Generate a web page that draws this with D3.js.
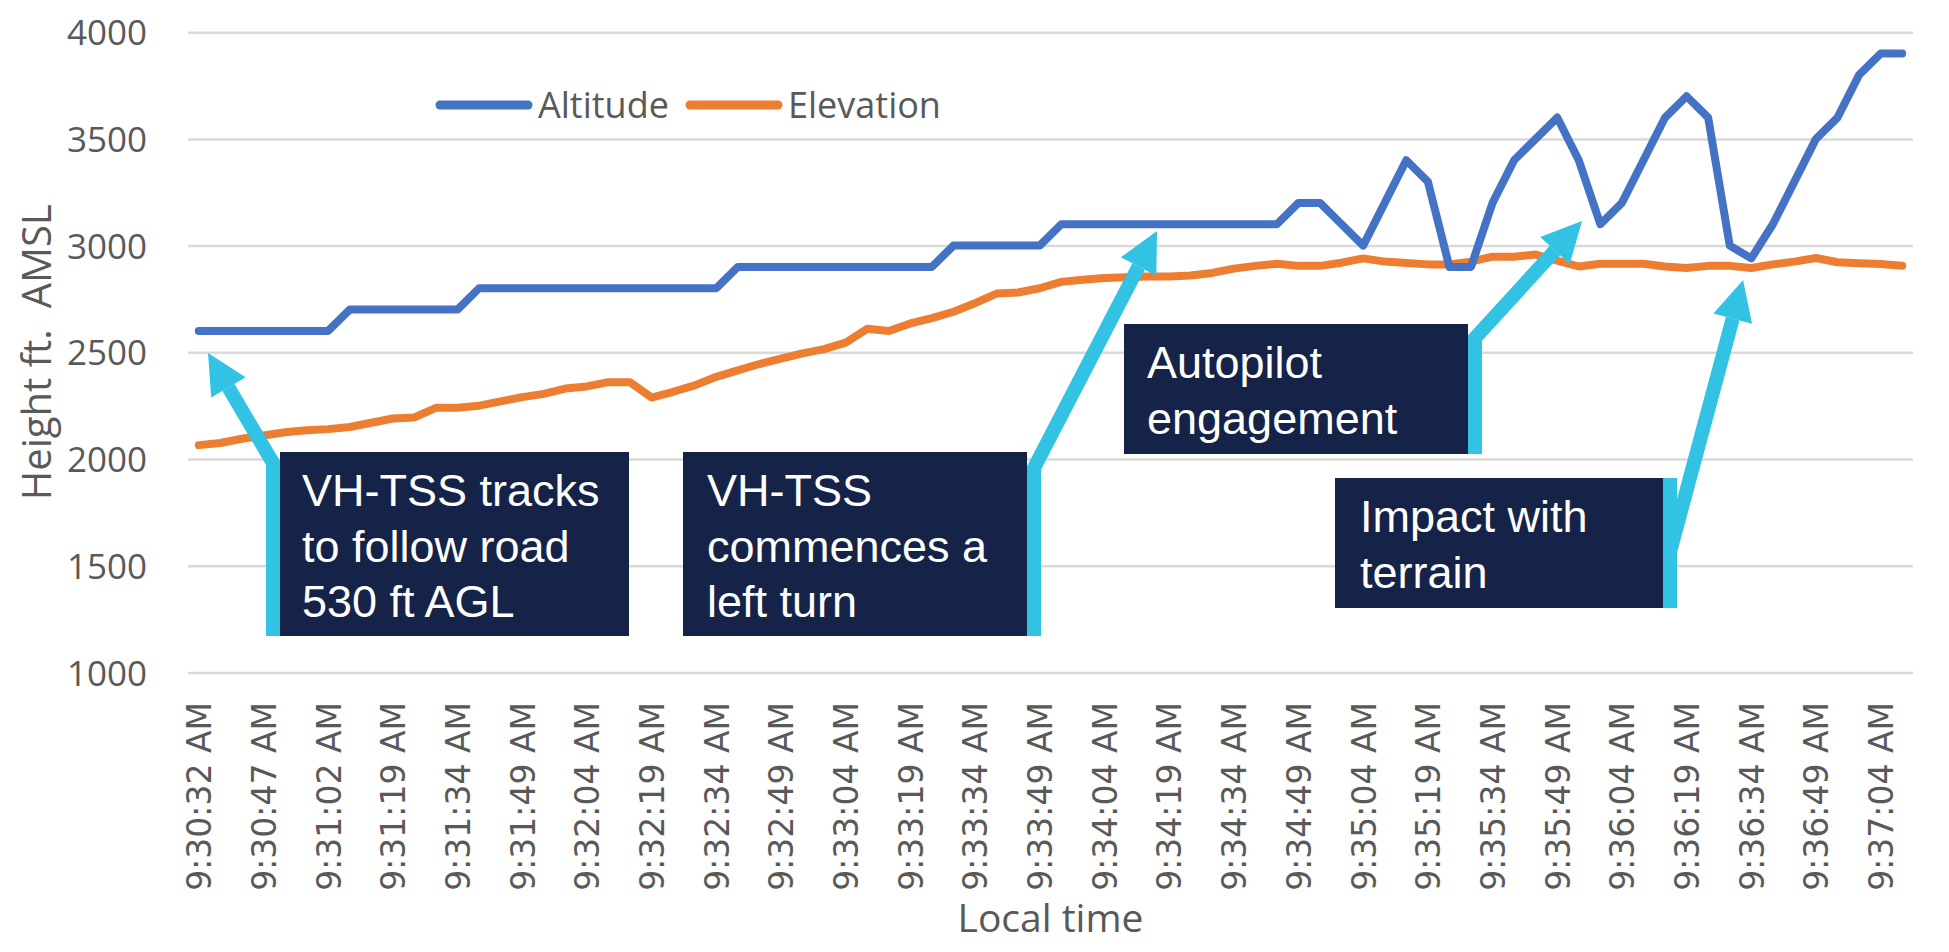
<!DOCTYPE html>
<html>
<head>
<meta charset="utf-8">
<script src="https://cdn.jsdelivr.net/npm/d3@7"></script>
<style>
  html, body { margin: 0; padding: 0; background: #fff; }
  svg { display: block; }
</style>
</head>
<body>
<svg id="chart" width="1949" height="952"></svg>
<script>
var categories = [
  "9:30:32 AM","9:30:37 AM","9:30:42 AM","9:30:47 AM","9:30:52 AM","9:30:57 AM",
  "9:31:02 AM","9:31:07 AM","9:31:13 AM","9:31:19 AM","9:31:24 AM","9:31:29 AM",
  "9:31:34 AM","9:31:39 AM","9:31:44 AM","9:31:49 AM","9:31:54 AM","9:31:59 AM",
  "9:32:04 AM","9:32:09 AM","9:32:14 AM","9:32:19 AM","9:32:24 AM","9:32:29 AM",
  "9:32:34 AM","9:32:39 AM","9:32:44 AM","9:32:49 AM","9:32:54 AM","9:32:59 AM",
  "9:33:04 AM","9:33:09 AM","9:33:14 AM","9:33:19 AM","9:33:24 AM","9:33:29 AM",
  "9:33:34 AM","9:33:39 AM","9:33:44 AM","9:33:49 AM","9:33:54 AM","9:33:59 AM",
  "9:34:04 AM","9:34:09 AM","9:34:14 AM","9:34:19 AM","9:34:24 AM","9:34:29 AM",
  "9:34:34 AM","9:34:39 AM","9:34:44 AM","9:34:49 AM","9:34:54 AM","9:34:59 AM",
  "9:35:04 AM","9:35:09 AM","9:35:14 AM","9:35:19 AM","9:35:24 AM","9:35:29 AM",
  "9:35:34 AM","9:35:39 AM","9:35:44 AM","9:35:49 AM","9:35:54 AM","9:35:59 AM",
  "9:36:04 AM","9:36:09 AM","9:36:14 AM","9:36:19 AM","9:36:24 AM","9:36:29 AM",
  "9:36:34 AM","9:36:39 AM","9:36:44 AM","9:36:49 AM","9:36:54 AM","9:36:59 AM",
  "9:37:04 AM","9:37:09 AM"
];

var altitude = [
  2600,2600,2600,2600,2600,2600,2600,2700,2700,2700,
  2700,2700,2700,2800,2800,2800,2800,2800,2800,2800,
  2800,2800,2800,2800,2800,2900,2900,2900,2900,2900,
  2900,2900,2900,2900,2900,3000,3000,3000,3000,3000,
  3100,3100,3100,3100,3100,3100,3100,3100,3100,3100,
  3100,3200,3200,3100,3000,3200,3400,3300,2900,2900,
  3200,3400,3500,3600,3400,3100,3200,3400,3600,3700,
  3600,3000,2940,3100,3300,3500,3600,3800,3900,3900
];

var elevation = [
  2065,2075,2095,2110,2125,2135,2140,2150,2170,2190,
  2195,2240,2240,2250,2270,2290,2305,2330,2340,2360,
  2360,2288,2315,2345,2385,2415,2445,2470,2495,2515,
  2545,2610,2600,2635,2660,2690,2730,2775,2780,2800,
  2830,2840,2848,2852,2855,2855,2860,2872,2892,2905,
  2915,2905,2905,2920,2940,2925,2918,2912,2912,2925,
  2948,2948,2958,2930,2902,2915,2915,2915,2902,2895,
  2905,2905,2895,2912,2925,2942,2922,2917,2914,2906
];

var yTicks = [1000, 1500, 2000, 2500, 3000, 3500, 4000];
var seriesNames = ["Altitude", "Elevation"];

var noteTexts = [
  ["VH-TSS tracks", "to follow road", "530 ft AGL"],
  ["VH-TSS", "commences a", "left turn"],
  ["Autopilot", "engagement"],
  ["Impact with", "terrain"]
];
// where each arrow points, in (sample index, feet)
var noteTargets = [[0.43, 2497], [44.44, 3068], [64.15, 3115], [71.62, 2839]];

var plotLeft = 188, plotRight = 1913, plotTop = 32.2, plotBottom = 672.4;
var blue = "#4472C4", orange = "#ED7D31", cyan = "#31C2E4", navy = "#162348";
var grey = "#595959";

var svg = d3.select("#chart");

var x = d3.scaleLinear().domain([-0.5, categories.length - 0.5]).range([plotLeft, plotRight]);
var y = d3.scaleLinear().domain([1000, 4000]).range([plotBottom, plotTop]);

// y axis + gridlines
var yAxis = svg.append("g")
  .attr("transform", "translate(" + plotLeft + ",0)")
  .call(d3.axisLeft(y).tickValues(yTicks).tickFormat(d3.format("d"))
    .tickSize(-(plotRight - plotLeft)).tickPadding(41));
yAxis.select(".domain").remove();
yAxis.selectAll("line").attr("stroke", "#D9D9D9").attr("stroke-width", 2.5);
yAxis.selectAll("text")
  .attr("fill", grey)
  .style("font-family", "'Open Sans', sans-serif")
  .style("font-size", "35px")
  .attr("dy", "0.36em");

// x axis labels every third sample
var xAxis = svg.append("g")
  .attr("transform", "translate(0," + plotBottom + ")")
  .call(d3.axisBottom(x)
    .tickValues(d3.range(0, categories.length, 3))
    .tickFormat(function(i){ return categories[i]; })
    .tickSize(0));
xAxis.select(".domain").remove();
xAxis.selectAll("text")
  .attr("fill", grey)
  .attr("transform", "rotate(-90)")
  .attr("text-anchor", "end")
  .attr("x", -29.6)
  .attr("y", 0)
  .attr("dy", "0.36em")
  .style("font-family", "'DejaVu Sans', sans-serif")
  .style("font-size", "33px");

// axis titles
svg.append("text")
  .attr("transform", "translate(51," + ((plotTop + plotBottom) / 2) + ") rotate(-90)")
  .attr("text-anchor", "middle")
  .attr("fill", grey)
  .style("font-family", "'Open Sans', sans-serif")
  .style("font-size", "40px")
  .text("Height ft.\u00a0\u00a0AMSL");

svg.append("text")
  .attr("x", (plotLeft + plotRight) / 2)
  .attr("y", 932)
  .attr("text-anchor", "middle")
  .attr("fill", grey)
  .style("font-family", "'Open Sans', sans-serif")
  .style("font-size", "39px")
  .text("Local time");

// lines
var line = d3.line().x(function(d, i){ return x(i); }).y(function(d){ return y(d); });
[[elevation, orange], [altitude, blue]].forEach(function(s){
  svg.append("path")
    .datum(s[0])
    .attr("d", line)
    .attr("fill", "none")
    .attr("stroke", s[1])
    .attr("stroke-width", 8)
    .attr("stroke-linejoin", "round")
    .attr("stroke-linecap", "round");
});

// legend
var legendX = [440, 690];
seriesNames.forEach(function(name, k){
  var g = svg.append("g").attr("transform", "translate(" + legendX[k] + ",105)");
  g.append("line").attr("x1", 0).attr("x2", 88).attr("y1", 0).attr("y2", 0)
    .attr("stroke", k === 0 ? blue : orange).attr("stroke-width", 9).attr("stroke-linecap", "round");
  g.append("text").attr("x", 98).attr("dy", "0.36em")
    .attr("fill", grey)
    .style("font-family", "'Open Sans', sans-serif")
    .style("font-size", "36px")
    .text(name);
});

// callout boxes (pixel layout)
var noteBoxes = [
  {x0: 280, y0: 452, x1: 629, y1: 636, side: "left", barTop: 463, lead: 463, tx: 302},
  {x0: 683, y0: 452, x1: 1027, y1: 636, side: "right", barTop: 468, lead: 468, tx: 707},
  {x0: 1124, y0: 324, x1: 1468, y1: 454, side: "right", barTop: 338, lead: 338, tx: 1147},
  {x0: 1335, y0: 478, x1: 1663, y1: 608, side: "right", barTop: 478, lead: 552, tx: 1360}
];

noteBoxes.forEach(function(b, k){
  var g = svg.append("g");
  g.append("rect")
    .attr("x", b.x0).attr("y", b.y0)
    .attr("width", b.x1 - b.x0).attr("height", b.y1 - b.y0)
    .attr("fill", navy);
  g.selectAll("text.note").data(noteTexts[k]).enter().append("text")
    .attr("x", b.tx)
    .attr("y", function(d, i){ return b.y0 + 54 + i * 55.5; })
    .attr("fill", "#fff")
    .style("font-family", "'Liberation Sans', Arial, sans-serif")
    .style("font-size", "45px")
    .text(function(d){ return d; });

  var bx = b.side === "left" ? b.x0 - 7 : b.x1 + 7;
  var tx = x(noteTargets[k][0]), ty = y(noteTargets[k][1]);
  var dx = tx - bx, dy = ty - b.lead, len = Math.sqrt(dx * dx + dy * dy);
  var ux = dx / len, uy = dy / len, nx = -uy, ny = ux;
  var headLen = 40, headHalf = 20;
  var baseX = tx - ux * headLen, baseY = ty - uy * headLen;

  var d = "M" + bx + "," + b.y1 + "L" + bx + "," + b.barTop;
  if (b.lead === b.barTop) d += "L" + baseX + "," + baseY;
  else d += "M" + bx + "," + b.lead + "L" + baseX + "," + baseY;
  g.append("path").attr("d", d)
    .attr("fill", "none").attr("stroke", cyan)
    .attr("stroke-width", 14).attr("stroke-linejoin", "miter");
  g.append("path")
    .attr("d", "M" + tx + "," + ty +
      "L" + (baseX + nx * headHalf) + "," + (baseY + ny * headHalf) +
      "L" + (baseX - nx * headHalf) + "," + (baseY - ny * headHalf) + "Z")
    .attr("fill", cyan);
});
</script>
</body>
</html>
